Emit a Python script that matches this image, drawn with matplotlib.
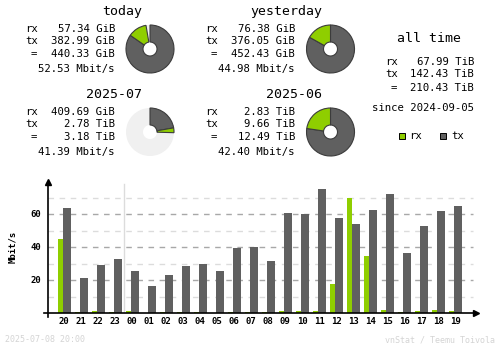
import matplotlib
matplotlib.use("Agg")
import matplotlib.pyplot as plt
from matplotlib.patches import Wedge, Rectangle

# --- DATA ---
hours = ["20", "21", "22", "23", "00", "01", "02", "03", "04", "05", "06", "07",
         "08", "09", "10", "11", "12", "13", "14", "15", "16", "17", "18", "19"]
rx_mbit = [45.1, 0.8, 1.4, 0.8, 1.4, 0.0, 0.8, 0.8, 0.8, 0.0, 0.8, 0.8,
           0.8, 1.4, 1.4, 1.4, 17.8, 69.9, 34.7, 2.0, 0.8, 1.4, 2.0, 1.4]
tx_mbit = [64.0, 21.4, 29.3, 32.9, 25.7, 16.6, 23.2, 28.7, 29.9, 25.7, 39.8, 40.2,
           31.7, 60.8, 60.2, 75.4, 57.8, 54.1, 62.6, 72.3, 36.6, 52.9, 62.0, 65.1]

# daily / monthly summaries: rx, tx (in the unit shown), and the text lines
today_rx, today_tx = 57.34, 382.99          # GiB
yday_rx, yday_tx = 76.38, 376.05            # GiB
jul_rx, jul_tx = 409.69 / 1024, 2.78        # TiB
jun_rx, jun_tx = 2.83, 9.66                 # TiB

today_lines = ["57.34 GiB", "382.99 GiB", "440.33 GiB", "52.53 Mbit/s"]
yday_lines = ["76.38 GiB", "376.05 GiB", "452.43 GiB", "44.98 Mbit/s"]
jul_lines = ["409.69 GiB", "2.78 TiB", "3.18 TiB", "41.39 Mbit/s"]
jun_lines = ["2.83 TiB", "9.66 TiB", "12.49 TiB", "42.40 Mbit/s"]
alltime_lines = ["67.99 TiB", "142.43 TiB", "210.43 TiB"]

RX = "#8fce00"
TX = "#606060"
OFFSET = "#f0f0f0"
EDGE = "#3c3c3c"
FOOT = "#d4d4d4"
MONO = "DejaVu Sans Mono"
FS = 7.7

fig = plt.figure(figsize=(5, 3.48), dpi=100)

# --- SUMMARY (pixel coordinates) ---
top = fig.add_axes([0, 0, 1, 1])
top.set_xlim(0, 500)
top.set_ylim(348, 0)
top.axis("off")


def donut(cx, cy, rx, tx, scale):
    r, hole = 24, 7
    top.add_patch(Wedge((cx, cy), r, 0, 360, width=r - hole, facecolor=OFFSET,
                        edgecolor="none"))
    tx_arc = 360 * tx / scale
    rx_arc = 360 * rx / scale
    top.add_patch(Wedge((cx, cy), r, -90, -90 + tx_arc, width=r - hole,
                        facecolor=TX, edgecolor=EDGE, linewidth=0.8))
    top.add_patch(Wedge((cx, cy), r, -90 + tx_arc, -90 + tx_arc + rx_arc,
                        width=r - hole, facecolor=RX, edgecolor=EDGE, linewidth=0.8))


def block(title, lines, x_lab, x_val, y0):
    top.text(x_val + 27, y0, title, fontsize=9.5, family=MONO, ha="right", va="center")
    ys = [y0 + 18, y0 + 30, y0 + 43, y0 + 58]
    for lab, y in zip(["rx", "tx", "="], ys[:3]):
        xl = x_lab + 6 if lab == "=" else x_lab
        top.text(xl, y, lab, fontsize=FS, family=MONO, va="center")
    for txt, y in zip(lines, ys):
        top.text(x_val, y, txt, fontsize=FS, family=MONO, ha="right", va="center")


block("today", today_lines, 25, 115, 11)
block("yesterday", yday_lines, 205, 295, 11)
block("2025-07", jul_lines, 25, 115, 94)
block("2025-06", jun_lines, 205, 295, 94)

day_scale = max(today_rx + today_tx, yday_rx + yday_tx)
month_scale = max(jul_rx + jul_tx, jun_rx + jun_tx)
donut(150, 49, today_rx, today_tx, day_scale)
donut(330.5, 49, yday_rx, yday_tx, day_scale)
donut(150, 132, jul_rx, jul_tx, month_scale)
donut(330.5, 132, jun_rx, jun_tx, month_scale)

top.text(429, 39, "all time", fontsize=9.5, family=MONO, ha="center", va="center")
for lab, txt, y in zip(["rx", "tx", "="], alltime_lines, [62, 74, 88]):
    top.text(385 if lab != "=" else 391, y, lab, fontsize=FS, family=MONO, va="center")
    top.text(474, y, txt, fontsize=FS, family=MONO, ha="right", va="center")
top.text(474, 108, "since 2024-09-05", fontsize=FS, family=MONO, ha="right", va="center")

top.add_patch(Rectangle((398.5, 133), 6, 6, facecolor=RX, edgecolor="black", linewidth=0.7))
top.text(409, 136, "rx", fontsize=FS, family=MONO, va="center")
top.add_patch(Rectangle((440, 133), 6, 6, facecolor=TX, edgecolor="black", linewidth=0.7))
top.text(451, 136, "tx", fontsize=FS, family=MONO, va="center")

top.text(5, 340, "2025-07-08 20:00", fontsize=6, family=MONO, color=FOOT, va="center")
top.text(495, 340, "vnStat / Teemu Toivola", fontsize=6, family=MONO, color=FOOT,
         ha="right", va="center")

# --- HOURLY BARS ---
# 17 px per hour slot, 1.65 px per Mbit/s
x0_px, x1_px = 48.3, 477.0
y0_px, y1_px = 313.3, 181.0
ax = fig.add_axes([x0_px / 500, 1 - y0_px / 348, (x1_px - x0_px) / 500,
                   (y0_px - y1_px) / 348])
ax.set_xlim(-0.88, -0.88 + (x1_px - x0_px) / 17)
ax.set_ylim(0, (y0_px - y1_px) / 1.65)
ax.axis("off")

grid_end = 24.13
for v in range(10, 80, 10):
    ax.plot([-0.88, grid_end], [v, v], color="#a8a8a8" if v % 20 == 0 else "#dcdcdc",
            linewidth=1, dashes=(4, 4), zorder=1)
ax.plot([3.59, 3.59], [0, 78.4], color="#dcdcdc", linewidth=1, zorder=1)

xs = list(range(len(hours)))
ax.bar([x - 5 / 17 for x in xs], rx_mbit, width=5 / 17, align="edge", color=RX, zorder=2)
ax.bar(xs, tx_mbit, width=8 / 17, align="edge", color=TX, zorder=3)

ax.plot([-1.12, 24.3], [0, 0], color="black", linewidth=1.2, clip_on=False, zorder=4)
ax.plot([-0.88, -0.88], [-2, 79.5], color="black", linewidth=1.2, clip_on=False, zorder=4)
ax.plot([24.3], [0], marker=">", color="black", markersize=4, clip_on=False, zorder=4)
ax.plot([-0.88], [79.5], marker="^", color="black", markersize=4, clip_on=False, zorder=4)

for v in [20, 40, 60]:
    ax.text(-1.3, v, str(v), fontsize=6.5, family=MONO, fontweight="bold",
            ha="right", va="center", clip_on=False)
for x, h in zip(xs, hours):
    ax.text(x + 0.06, -4.7, h, fontsize=6.5, family=MONO, fontweight="bold",
            ha="center", va="center", clip_on=False)
ax.text(-2.95, 40, "Mbit/s", fontsize=6.5, family=MONO, fontweight="bold",
        rotation=90, ha="center", va="center", clip_on=False)

fig.savefig("out.png", dpi=100)
